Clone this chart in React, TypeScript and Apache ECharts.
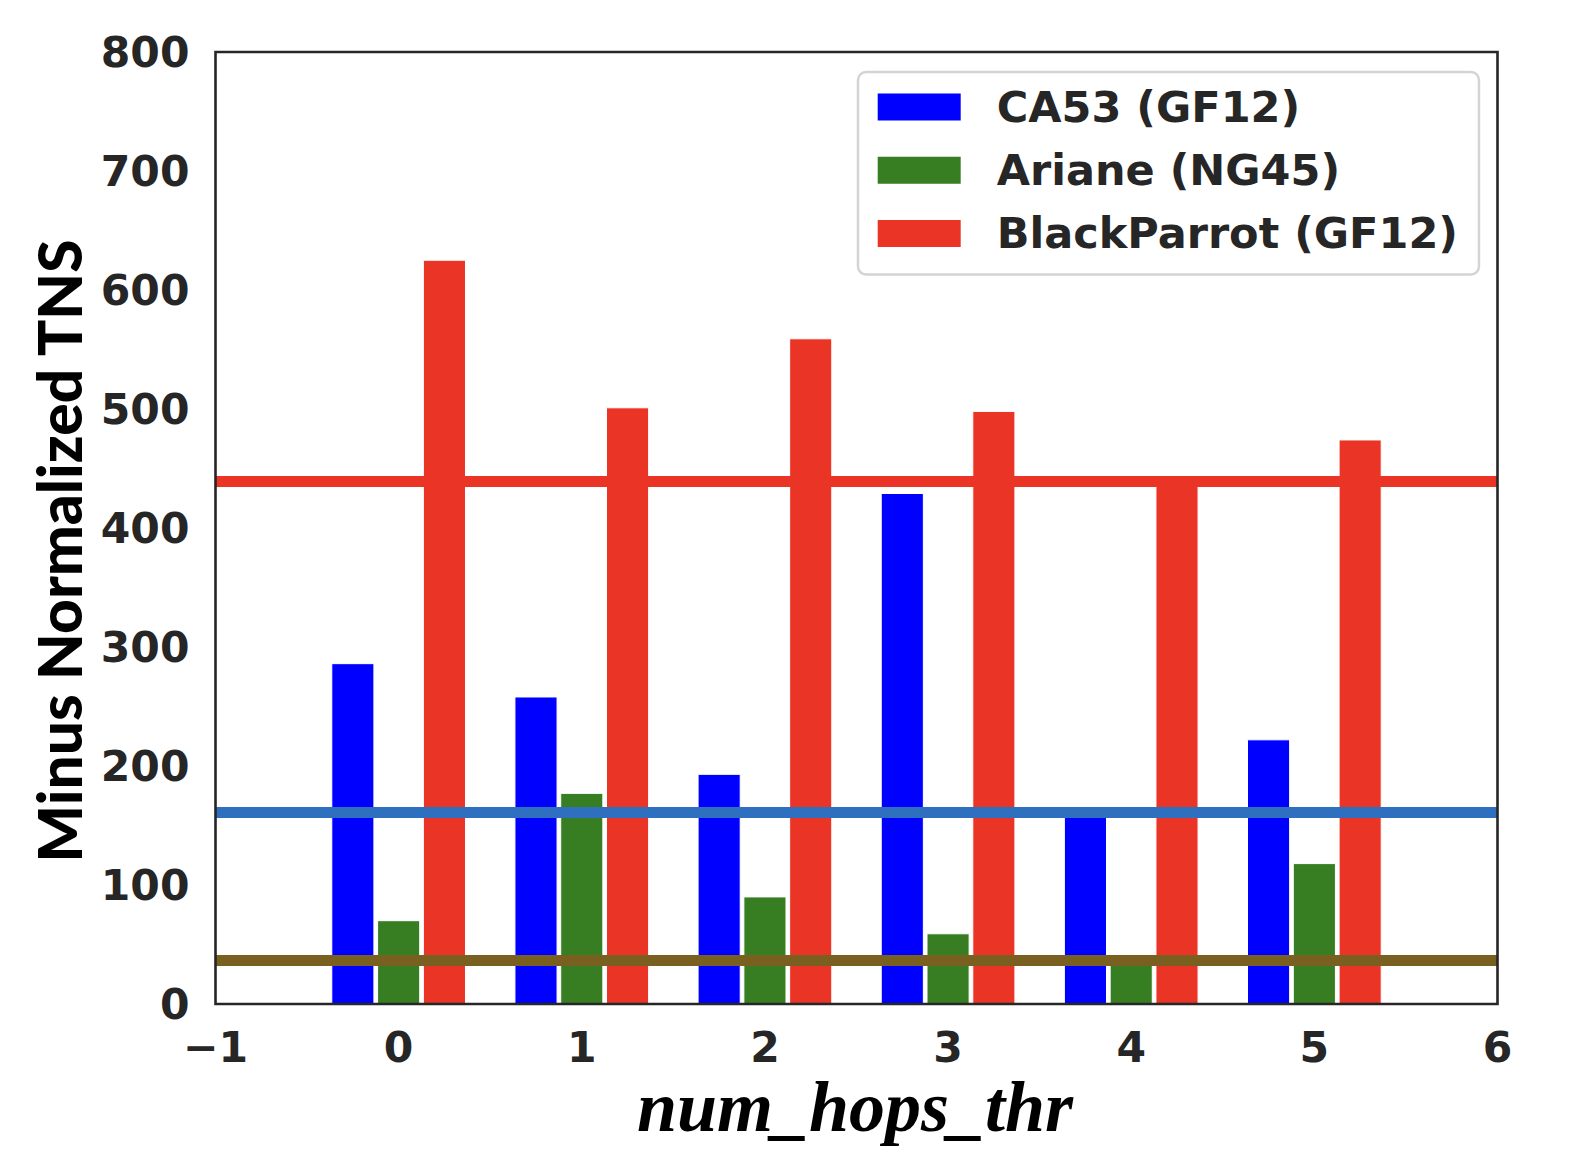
import React, { useEffect, useRef } from "react";
import * as echarts from "echarts";

// ---- data ----
const hops = [0, 1, 2, 3, 4, 5];
const seriesNames = ["CA53 (GF12)", "Ariane (NG45)", "BlackParrot (GF12)"];
const ca53 = [286, 258, 193, 429, 160, 222];
const ariane = [70, 177, 90, 59, 37, 118];
const blackParrot = [625, 501, 559, 498, 439, 474];
const baselineValues = [161, 36.5, 439]; // CA53, Ariane, BlackParrot reference lines
const xTicks = [-1, 0, 1, 2, 3, 4, 5, 6];
const yTicks = [0, 100, 200, 300, 400, 500, 600, 700, 800];

// ---- styling ----
const barColors = ["#0000ff", "#377e22", "#ea3526"];
const lineColors = ["#2f6fbf", "#7a6020", "#ea3526"];
const barOffsets = [-0.25, 0, 0.25];
const barWidth = 0.23;

const G = { left: 215.5, right: 1497.5, top: 52, bottom: 1004 };

function makeRender(offset: number, color: string) {
  return (params: any, api: any) => {
    const x = api.value(0) + offset;
    const v = api.value(1);
    const p0 = api.coord([x - barWidth / 2, v]);
    const p1 = api.coord([x + barWidth / 2, 0]);
    return {
      type: "rect",
      shape: { x: p0[0], y: p0[1], width: p1[0] - p0[0], height: p1[1] - p0[1] },
      style: { fill: color, stroke: "#ffffff", lineWidth: 1 },
    };
  };
}

export default function App() {
  const ref = useRef<HTMLDivElement>(null);
  useEffect(() => {
    const chart = echarts.init(ref.current!, undefined, { renderer: "svg" });
    const values = [ca53, ariane, blackParrot];
    const tickFont = { fontFamily: "DejaVu Sans", fontWeight: "bold" as const, fontSize: 42.5, color: "#262626" };
    const option: any = {
      animation: false,
      backgroundColor: "#ffffff",
      grid: {
        left: G.left,
        right: 1578 - G.right,
        top: G.top,
        bottom: 1154 - G.bottom,
        show: false,
      },
      xAxis: {
        type: "value",
        min: xTicks[0],
        max: xTicks[xTicks.length - 1],
        interval: 1,
        axisLine: { show: false },
        axisTick: { show: false },
        splitLine: { show: false },
        axisLabel: {
          ...tickFont,
          lineHeight: 36,
          margin: 25,
          formatter: (v: number) => String(v).replace("-", "\u2212"),
        },
      },
      yAxis: {
        type: "value",
        min: yTicks[0],
        max: yTicks[yTicks.length - 1],
        interval: 100,
        axisLine: { show: false },
        axisTick: { show: false },
        splitLine: { show: false },
        axisLabel: { ...tickFont, margin: 26 },
      },
      legend: {
        data: seriesNames.map((n) => ({ name: n, icon: "rect" })),
        orient: "vertical",
        left: 858,
        top: 72,
        itemWidth: 83,
        itemHeight: 27,
        itemGap: 13.2,
        padding: [10, 21, 16, 19.7],
        backgroundColor: "#ffffff",
        borderColor: "#d4d4d4",
        borderWidth: 2.5,
        borderRadius: 8,
        selectedMode: false,
        textStyle: {
          fontFamily: "DejaVu Sans",
          fontWeight: "bold",
          fontSize: 43,
          color: "#262626",
          lineHeight: 50,
          padding: [0, 0, 0, 31],
        },
      },
      series: [
        ...seriesNames.map((name, k) => ({
          type: "custom",
          name,
          data: hops.map((h, i) => [h, values[k][i]]),
          encode: { x: 0, y: 1 },
          renderItem: makeRender(barOffsets[k], barColors[k]),
          itemStyle: { color: barColors[k] },
          z: 2,
        })),
        ...baselineValues.map((v, k) => ({
          type: "line",
          name: "baseline-" + k,
          data: [
            [xTicks[0], v],
            [xTicks[xTicks.length - 1], v],
          ],
          symbol: "none",
          silent: true,
          lineStyle: { width: 11, color: lineColors[k], cap: "butt" },
          z: 5,
        })),
      ],
      graphic: [
        {
          type: "rect",
          z: 100,
          silent: true,
          shape: { x: G.left, y: G.top, width: G.right - G.left, height: G.bottom - G.top },
          style: { fill: "none", stroke: "#262626", lineWidth: 2.6 },
        },
        {
          type: "text",
          z: 100,
          x: 58,
          y: 551,
          rotation: Math.PI / 2,
          style: {
            text: "Minus Normalized TNS",
            fontFamily: "Lato",
            fontWeight: 900,
            fontSize: 60.5,
            fill: "#000000",
            align: "center",
            verticalAlign: "middle",
            lineHeight: 50,
          },
        },
        {
          type: "text",
          z: 100,
          x: 855,
          y: 1107,
          style: {
            text: "num_hops_thr",
            fontFamily: "Liberation Serif",
            fontWeight: "bold",
            fontStyle: "italic",
            fontSize: 72,
            fill: "#000000",
            align: "center",
            verticalAlign: "middle",
            lineHeight: 52,
          },
        },
      ],
    };
    chart.setOption(option);
    return () => chart.dispose();
  }, []);
  return (
    <div
      ref={ref}
      style={{ position: "absolute", left: 0, top: 0, width: 1578, height: 1154, background: "#fff" }}
    />
  );
}
